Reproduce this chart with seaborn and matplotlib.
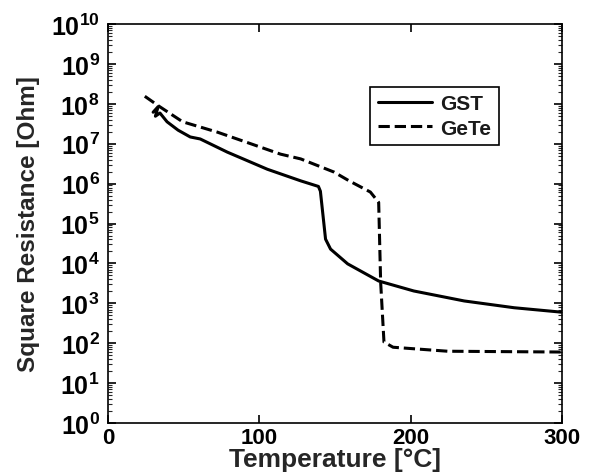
import numpy as np
import pandas as pd
import matplotlib
matplotlib.use("Agg")
import matplotlib.pyplot as plt
import matplotlib.ticker as mticker
import seaborn as sns

# GST (solid): temperature [°C], log10 of square resistance
gst_T = [29.8, 33.1, 31.3, 34.3, 39.0, 46.3, 54.3, 60.9, 78.8, 105.3, 127.3, 139.0, 140.3,
         143.7, 147.0, 158.3, 178.8, 202.0, 235.3, 268.3, 299.3]
gst_R = [7.79, 7.93, 7.69, 7.77, 7.55, 7.34, 7.17, 7.12, 6.79, 6.36, 6.07, 5.93, 5.81,
         4.61, 4.36, 3.99, 3.56, 3.31, 3.06, 2.89, 2.78]
# GeTe (dashed)
gete_T = [24.3, 33.3, 49.3, 72.3, 94.3, 113.9, 127.3, 149.3, 159.3, 173.3, 178.8, 180.1,
          182.3, 188.3, 224.3, 299.3]
gete_R = [8.19, 7.95, 7.55, 7.29, 7.00, 6.74, 6.62, 6.29, 6.07, 5.79, 5.53, 3.53,
          2.03, 1.90, 1.80, 1.78]

sns.set_style("ticks")
plt.rcParams['font.family'] = ['Liberation Sans', 'DejaVu Sans']
plt.rcParams['mathtext.fontset'] = 'custom'
plt.rcParams['mathtext.rm'] = 'Liberation Sans'
plt.rcParams['mathtext.bf'] = 'Liberation Sans:bold'

df = pd.concat([
    pd.DataFrame({"T": gst_T, "R": 10 ** np.array(gst_R), "s": "GST"}),
    pd.DataFrame({"T": gete_T, "R": 10 ** np.array(gete_R), "s": "GeTe"}),
])

fig = plt.figure(figsize=(5.89, 4.77), dpi=100)
ax = fig.add_axes([0.1834, 0.111, 0.771, 0.8365])
for name, ls in [("GST", "-"), ("GeTe", "--")]:
    d = df[df.s == name]
    sns.lineplot(data=d, x="T", y="R", sort=False, estimator=None, ax=ax,
                 color="black", linewidth=2.2, linestyle=ls, label=name)

ax.set_yscale("log")
ax.set_xlim(0, 300)
ax.set_ylim(1, 1e10)
ax.set_xticks([0, 100, 200, 300])
ax.set_yticks([10.0 ** k for k in range(11)])
ax.yaxis.set_major_formatter(mticker.FuncFormatter(
    lambda v, p: r'$\mathbf{10}^{\mathbf{%d}}$' % int(round(np.log10(v)))))
ax.yaxis.set_minor_locator(mticker.LogLocator(base=10, subs=np.arange(2, 10), numticks=20))
ax.tick_params(which="both", direction="in", top=True, right=True)
ax.tick_params(which="major", length=6, width=1.2, colors="black")
ax.tick_params(axis="x", which="major", labelsize=16, pad=3)
ax.tick_params(axis="y", which="major", labelsize=18, pad=6)
ax.tick_params(which="minor", length=3, width=0.8)
for lab in ax.get_xticklabels():
    lab.set_fontweight("bold")
ax.set_xlabel("Temperature [°C]", fontsize=19, fontweight="bold", labelpad=-1)
ax.set_ylabel("Square Resistance [Ohm]", fontsize=17.5, fontweight="bold", labelpad=8)
for sp in ax.spines.values():
    sp.set_linewidth(1.2)
    sp.set_color("black")

leg = ax.legend(loc="upper left", bbox_to_anchor=(0.555, 0.868), fontsize=15,
                frameon=True, fancybox=False, edgecolor="black", handlelength=2.6,
                handletextpad=0.4, borderpad=0.35, labelspacing=0.25, framealpha=1)
leg.get_frame().set_linewidth(1.2)
for t in leg.get_texts():
    t.set_fontweight("bold")
    t.set_color("#1a1a1a")

fig.savefig("out.png", dpi=100)
